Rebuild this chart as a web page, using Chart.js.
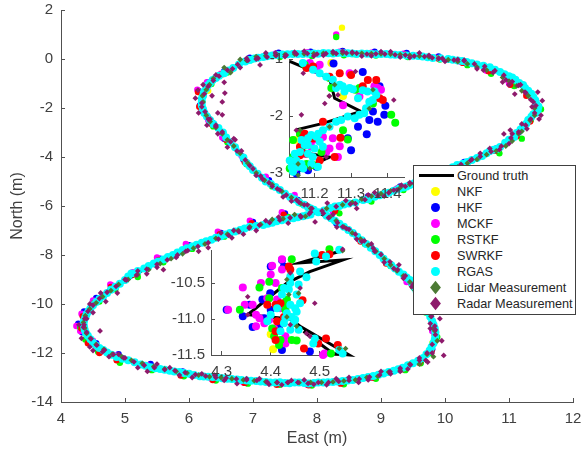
<!DOCTYPE html>
<html>
<head>
<meta charset="utf-8">
<title>Trajectory</title>
<script src="https://cdn.jsdelivr.net/npm/chart.js@4"></script>
<style>
    html, body { margin: 0; padding: 0; background: #fff; }
    #wrap { position: relative; width: 585px; height: 450px; overflow: hidden; font-family: "Liberation Sans", Arial, sans-serif; }
    canvas { position: absolute; }
    #legend { position: absolute; left: 413px; top: 165px; width: 161px; height: 148px; background: #fff; border: 1px solid #404040; color: #262626; font-size: 12.7px; }
    .row { position: absolute; left: 0; width: 160px; height: 16px; line-height: 16px; }
    .row span { position: absolute; left: 43px; white-space: nowrap; }
    .key { position: absolute; }
</style>
</head>
<body>
<div id="wrap">
    <canvas id="mainChart" width="585" height="450" style="left:0;top:0"></canvas>
    <canvas id="insetTop" width="170" height="160" style="left:250px;top:45px"></canvas>
    <canvas id="insetBottom" width="210" height="150" style="left:160px;top:235px"></canvas>
    <div id="legend"></div>
</div>
<script>
// legend
const seriesNames = ['Ground truth', 'NKF', 'HKF', 'MCKF', 'RSTKF', 'SWRKF', 'RGAS', 'Lidar Measurement', 'Radar Measurement'];
const seriesColors = ['#000000', '#ffff00', '#0000ff', '#ff00ff', '#00ff00', '#ff0000', '#00ffff', '#4c7a34', '#8e1a6c'];

// main axes tick labels
const eastTicks = [4, 5, 6, 7, 8, 9, 10, 11, 12];
const northTicks = [2, 0, -2, -4, -6, -8, -10, -12, -14];

// main plot, values
const truthEast = [8.02, 8.72, 9.45, 10.19, 10.86, 11.12, 11.3, 11.45, 11.38, 11.22, 10.86, 10.34, 9.81, 9.3, 8.55, 7.78, 7.3, 6.88, 6.69, 6.42, 6.27, 6.2, 6.22, 6.53, 7, 7.58, 8.02, 8.56, 8.98, 9.45, 9.68, 9.84, 9.82, 9.66, 9.34, 8.88, 8.25, 7.5, 6.75, 6.17, 5.4, 4.87, 4.5, 4.37, 4.35, 4.5, 4.85, 5.45, 5.9, 6.64, 7.16, 8.02];
const truthNorth = [-6.25, -5.76, -5.14, -4.33, -3.59, -3.02, -2.49, -2.08, -1.55, -1.06, -0.53, -0.12, 0.04, 0.16, 0.22, 0.2, 0.14, -0.1, -0.37, -0.78, -1.2, -1.75, -2.05, -3, -4.53, -5.63, -6.25, -7.1, -8, -9.02, -10.05, -11, -11.6, -12.2, -12.6, -12.94, -13.18, -13.22, -13.08, -12.95, -12.58, -12.16, -11.58, -11.05, -10.8, -10.05, -9.3, -8.35, -7.8, -7.1, -6.78, -6.25];

const nkfEast = [8.39, 8.6, 6.3, 4.4, 9.8];
const nkfNorth = [1.28, 0.18, -1.3, -11.3, -11.6];

const hkfEast = [8.3, 8.8, 9.3, 9.8, 10.3, 10.8, 11.15, 11.34, 11.45, 11.3, 11.05, 10.7, 10.3, 9.9, 9.4, 8.9, 8.4, 7.9, 7.4, 6.95, 6.55, 6.3, 6.15, 6.17, 6.33, 6.55, 6.85, 7.25, 7.7, 8.3, 8.7, 9.1, 9.45, 9.65, 9.85, 9.8, 9.62, 9.35, 8.9, 8.4, 7.9, 7.4, 6.9, 6.4, 5.9, 5.4, 4.9, 4.55, 4.33, 4.27, 4.36, 4.55, 4.8, 5.15, 5.55, 6, 6.5, 7, 7.5];
const hkfNorth = [-6.1, -5.6, -5.2, -4.75, -4.2, -3.65, -3, -2.4, -1.9, -1.4, -0.95, -0.42, -0.1, 0.1, 0.25, 0.3, 0.33, 0.3, 0.26, 0.05, -0.5, -0.95, -1.3, -1.9, -2.6, -3.25, -4.1, -4.95, -5.75, -6.7, -7.4, -8.3, -9.1, -10.2, -11.2, -11.85, -12.38, -12.65, -13, -13.22, -13.28, -13.25, -13.15, -13, -12.75, -12.45, -12.05, -11.6, -11.15, -10.8, -10.3, -9.75, -9.25, -8.75, -8.15, -7.6, -7.1, -6.65, -6.3];

const mckfEast = [8.25, 8.75, 9.25, 9.75, 10.25, 10.75, 11.1, 11.33, 11.4, 11.28, 11, 10.65, 10.25, 9.85, 9.35, 8.85, 8.35, 7.85, 7.35, 6.9, 6.5, 6.28, 6.13, 6.2, 6.3, 6.52, 6.82, 7.2, 7.65, 8.3, 8.65, 9.05, 9.4, 9.62, 9.8, 9.78, 9.58, 9.3, 8.85, 8.35, 7.85, 7.35, 6.85, 6.35, 5.85, 5.35, 4.85, 4.5, 4.3, 4.24, 4.32, 4.5, 4.77, 5.12, 5.5, 5.95, 6.45, 6.95, 7.45];
const mckfNorth = [-6.25, -5.75, -5.28, -4.85, -4.3, -3.7, -3.1, -2.5, -1.95, -1.45, -1, -0.48, -0.12, 0.05, 0.22, 0.26, 0.3, 0.28, 0.22, -0.05, -0.6, -0.95, -1.25, -1.85, -2.5, -3.2, -3.95, -4.8, -5.55, 1, -7.35, -8.2, -9.1, -10.15, -11.1, -11.8, -12.35, -12.68, -13, -13.18, -13.3, -13.22, -13.2, -13.05, -12.8, -12.5, -12.1, -11.5, -11.1, -10.9, -10.4, -9.85, -9.2, -8.7, -8.1, -7.55, -7.05, -6.6, -6.25];

const rstkfEast = [8.35, 8.85, 9.35, 9.85, 10.35, 10.85, 11.2, 11.34, 11.5, 11.35, 11.08, 10.72, 10.35, 9.92, 9.42, 8.92, 8.42, 7.92, 7.42, 6.97, 6.6, 6.35, 6.2, 6.22, 6.38, 6.6, 6.9, 7.3, 7.75, 8.3, 8.75, 9.15, 9.5, 9.7, 9.88, 9.78, 9.62, 9.38, 8.92, 8.42, 7.92, 7.42, 6.92, 6.42, 5.92, 5.42, 4.92, 4.58, 4.38, 4.3, 4.4, 4.6, 4.85, 5.2, 5.6, 6.05, 6.55, 7.05, 7.55];
const rstkfNorth = [-6.3, -5.82, -5.35, -4.95, -4.4, -3.85, -3.25, -2.5, -2.05, -1.55, -1.1, -0.6, -0.25, -0.02, 0.08, 0.14, 0.15, 0.12, 0.08, -0.04, -0.55, -1.02, -1.45, -2.05, -2.75, -3.4, -4.3, -5.2, -5.9, 0.9, -7.55, -8.45, -9.3, -10.35, -11.35, -12, -12.42, -12.7, -13.05, -13.28, -13.33, -13.3, -13.25, -13.12, -12.95, -12.7, -12.4, -11.95, -11.45, -10.95, -10.45, -9.9, -9.4, -8.9, -8.3, -7.75, -7.25, -6.8, -6.45];

const swrkfEast = [8.28, 8.78, 9.28, 9.78, 10.28, 10.78, 11.12, 11.33, 11.43, 11.27, 11.02, 10.68, 10.28, 9.88, 9.38, 8.88, 8.38, 7.88, 7.38, 6.93, 6.52, 6.27, 6.14, 6.16, 6.35, 6.58, 6.87, 7.27, 7.72, 8.28, 8.68, 9.08, 9.48, 9.68, 9.84, 9.79, 9.6, 9.33, 8.87, 8.37, 7.87, 7.37, 6.87, 6.37, 5.87, 5.37, 4.87, 4.6, 4.42, 4.32, 4.34, 4.52, 4.78, 5.13, 5.53, 5.98, 6.48, 6.98, 7.48];
const swrkfNorth = [-6.2, -5.72, -5.25, -4.82, -4.28, -3.75, -3.15, -2.55, -1.98, -1.5, -1.05, -0.5, -0.16, 0.03, 0.18, 0.22, 0.25, 0.24, 0.2, 0, -0.62, -1.1, -1.35, -1.95, -2.65, -3.3, -4.2, -5.1, -5.8, -6.6, -7.45, -8.35, -9.2, -10.25, -11.25, -11.9, -12.4, -12.66, -13, -13.25, -13.32, -13.3, -13.22, -13.1, -12.92, -12.65, -12.3, -12, -11.6, -11, -10.5, -9.95, -9.3, -8.8, -8.2, -7.7, -7.15, -6.7, -6.35];

const rgasEast = [8.02, 8.2, 8.35, 8.5, 8.72, 8.9, 9.05, 9.2, 9.35, 9.45, 9.6, 9.75, 9.9, 10.05, 10.19, 10.35, 10.5, 10.65, 10.76, 10.86, 11, 11.12, 11.22, 11.3, 11.38, 11.45, 11.42, 11.38, 11.3, 11.22, 11.1, 11, 10.86, 10.7, 10.5, 10.34, 10.2, 10.05, 9.81, 9.65, 9.5, 9.3, 9.15, 9, 8.85, 8.7, 8.55, 8.4, 8.25, 8.1, 7.95, 7.78, 7.62, 7.46, 7.3, 7.16, 7.02, 6.88, 6.69, 6.55, 6.42, 6.33, 6.27, 6.22, 6.2, 6.22, 6.28, 6.38, 6.53, 6.65, 6.78, 6.9, 7, 7.14, 7.28, 7.42, 7.58, 7.72, 7.86, 7.95,
    8.15, 8.28, 8.42, 8.56, 8.7, 8.84, 8.98, 9.1, 9.22, 9.35, 9.45, 9.53, 9.6, 9.68, 9.74, 9.8, 9.84, 9.85, 9.82, 9.76, 9.66, 9.5, 9.34, 9.2, 9.04, 8.88, 8.72, 8.56, 8.4, 8.25, 8.1, 7.95, 7.8, 7.65, 7.5, 7.35, 7.2, 7.05, 6.9, 6.75, 6.6, 6.45, 6.3, 6.17, 6, 5.85, 5.7, 5.55, 5.4, 5.25, 5.05, 4.87, 4.72, 4.6, 4.5, 4.42, 4.37, 4.35, 4.38, 4.43, 4.5, 4.6, 4.72, 4.85, 5, 5.1, 5.3, 5.45, 5.6, 5.75, 5.9, 6.05, 6.2, 6.35, 6.5, 6.64, 6.8, 6.95, 7.16, 7.3, 7.45, 7.63, 7.78, 7.9,
    8.11, 8.28, 8.42, 8.6, 8.8, 8.98, 9.12, 9.28, 9.4, 9.52, 9.68, 9.83, 9.98, 10.12, 10.28, 10.42, 10.58, 10.7, 10.82, 10.94, 11.08, 11.18, 11.27, 11.35, 11.42, 11.46, 11.41, 11.35, 11.25, 11.16, 11.05, 10.93, 10.78, 10.6, 10.42, 10.27, 10.12, 9.93, 9.73, 9.58, 9.4, 9.22, 9.08, 8.92, 8.78, 8.62, 8.48, 8.32, 8.18, 8.02, 7.86, 7.7, 7.54, 7.38, 7.22, 7.08, 6.95, 6.78, 6.62, 6.47, 6.37, 6.29, 6.23, 6.2, 6.2, 6.24, 6.33, 6.46, 6.58, 6.72, 6.85, 6.95, 7.07, 7.2, 7.35, 7.5, 7.65, 7.8, 7.9,
    8.22, 8.35, 8.49, 8.63, 8.77, 8.91, 9.04, 9.16, 9.28, 9.4, 9.49, 9.56, 9.64, 9.71, 9.77, 9.82, 9.85, 9.84, 9.79, 9.71, 9.58, 9.42, 9.27, 9.12, 8.96, 8.8, 8.64, 8.48, 8.32, 8.17, 8.02, 7.87, 7.72, 7.57, 7.42, 7.27, 7.12, 6.97, 6.82, 6.67, 6.52, 6.37, 6.23, 6.08, 5.92, 5.77, 5.62, 5.47, 5.32, 5.15, 4.96, 4.79, 4.66, 4.55, 4.46, 4.39, 4.36, 4.36, 4.4, 4.46, 4.55, 4.66, 4.78, 4.92, 5.05, 5.2, 5.37, 5.52, 5.67, 5.82, 5.97, 6.12, 6.27, 6.42, 6.57, 6.72, 6.87, 7.05, 7.23, 7.37, 7.54, 7.7, 7.84];
const rgasNorth = [-6.25, -6.08, -6, -5.9, -5.76, -5.62, -5.5, -5.38, -5.24, -5.14, -5, -4.85, -4.7, -4.5, -4.33, -4.2, -4.04, -3.85, -3.7, -3.59, -3.3, -3.02, -2.75, -2.49, -2.25, -2.08, -1.8, -1.55, -1.3, -1.06, -0.85, -0.7, -0.53, -0.34, -0.22, -0.12, -0.06, 0, 0.04, 0.1, 0.13, 0.16, 0.18, 0.2, 0.2, 0.22, 0.22, 0.24, 0.22, 0.24, 0.22, 0.2, 0.2, 0.18, 0.14, 0.08, 0.02, -0.1, -0.37, -0.58, -0.78, -0.98, -1.2, -1.5, -1.75, -2.05, -2.35, -2.65, -3, -3.4, -3.82, -4.24, -4.53, -4.85, -5.1, -5.35, -5.63, -5.85, -6.05, -6.15,
    -6.4, -6.6, -6.85, -7.1, -7.4, -7.7, -8, -8.3, -8.55, -8.8, -9.02, -9.35, -9.7, -10.05, -10.35, -10.7, -11, -11.3, -11.6, -11.9, -12.2, -12.42, -12.6, -12.72, -12.84, -12.94, -13.02, -13.1, -13.14, -13.18, -13.2, -13.22, -13.22, -13.2, -13.22, -13.2, -13.18, -13.14, -13.12, -13.08, -13.05, -13, -12.97, -12.95, -12.85, -12.78, -12.72, -12.65, -12.58, -12.47, -12.3, -12.16, -11.98, -11.8, -11.58, -11.3, -11.05, -10.8, -10.55, -10.3, -10.05, -9.8, -9.55, -9.3, -9.02, -8.75, -8.55, -8.35, -8.18, -8, -7.8, -7.65, -7.5, -7.38, -7.23, -7.1, -6.98, -6.85, -6.78, -6.68, -6.58, -6.5, -6.42, -6.35,
    -6.18, -6.02, -5.94, -5.86, -5.72, -5.56, -5.46, -5.3, -5.2, -5.07, -4.94, -4.76, -4.62, -4.42, -4.28, -4.12, -3.96, -3.76, -3.66, -3.42, -3.18, -2.88, -2.64, -2.36, -2.2, -1.94, -1.68, -1.42, -1.18, -0.98, -0.76, -0.62, -0.44, -0.28, -0.17, -0.08, -0.03, 0.03, 0.07, 0.12, 0.14, 0.17, 0.2, 0.19, 0.21, 0.2, 0.23, 0.25, 0.23, 0.21, 0.21, 0.2, 0.19, 0.16, 0.11, 0.05, -0.04, -0.22, -0.47, -0.68, -0.86, -1.08, -1.35, -1.62, -1.9, -2.2, -2.5, -2.82, -3.2, -3.6, -4.02, -4.38, -4.68, -5, -5.22, -5.5, -5.72, -5.95, -6.1,
    -6.5, -6.72, -6.98, -7.25, -7.55, -7.85, -8.15, -8.42, -8.68, -8.92, -9.18, -9.52, -9.88, -10.2, -10.52, -10.85, -11.15, -11.45, -11.75, -12.05, -12.32, -12.5, -12.66, -12.78, -12.89, -12.98, -13.06, -13.12, -13.16, -13.19, -13.2, -13.24, -13.2, -13.23, -13.19, -13.2, -13.16, -13.13, -13.1, -13.06, -13.03, -12.98, -12.96, -12.9, -12.82, -12.75, -12.68, -12.62, -12.52, -12.38, -12.23, -12.07, -11.88, -11.7, -11.44, -11.18, -10.92, -10.68, -10.42, -10.18, -9.92, -9.68, -9.42, -9.17, -8.88, -8.65, -8.45, -8.27, -8.08, -7.9, -7.72, -7.58, -7.44, -7.3, -7.16, -7.04, -6.92, -6.82, -6.72, -6.62, -6.54, -6.46, -6.38];

const lidarEast = [8.15, 8.4, 8.7, 9, 9.3, 9.6, 9.9, 10.2, 10.5, 10.8, 11.05, 11.2, 11.33, 11.4, 11.3, 11.12, 10.9, 10.65, 10.35, 10.05, 9.75, 9.45, 9.15, 8.85, 8.55, 8.25, 7.95, 7.65, 7.35, 7.05, 6.8, 6.55, 6.38, 6.27, 6.22, 6.27, 6.42, 6.6, 6.8, 7.05, 7.3, 7.6, 7.9,
    8.3, 8.55, 8.8, 9.05, 9.25, 9.45, 9.6, 9.72, 9.82, 9.88, 9.82, 9.6, 9.3, 8.95, 8.6, 8.25, 7.9, 7.55, 7.2, 6.85, 6.5, 6.15, 5.8, 5.45, 5.1, 4.8, 4.55, 4.4, 4.35, 4.45, 4.65, 4.9, 5.2, 5.55, 5.9, 6.25, 6.6, 6.95, 7.3, 7.65,
    8.55, 8.85, 9.15, 9.45, 9.75, 10.05, 10.35, 10.65, 10.95, 11.15, 11.4, 11.2, 11, 10.5, 10.2, 9.9, 9.6, 9.3, 9, 8.7, 8.4, 8.1, 7.8, 7.5, 7.2, 6.9, 6.65, 6.32, 6.21, 6.33, 6.52, 6.7, 6.92, 7.18, 7.45, 7.75,
    8.2, 8.42, 8.68, 8.92, 9.15, 9.35, 9.53, 9.66, 9.78, 9.84, 9.72, 9.45, 9.12, 8.78, 8.42, 8.07, 7.72, 7.37, 7.02, 6.67, 6.32, 5.97, 5.62, 5.27, 4.95, 4.67, 4.46, 4.37, 4.38, 4.55, 4.78, 5.05, 5.37, 5.72, 6.07, 6.42, 6.77, 7.12, 7.47, 7.82];
const lidarNorth = [-6.1, -5.95, -5.72, -5.5, -5.25, -5, -4.7, -4.4, -4.1, -3.75, -3.35, -2.95, -2.5, -2, -1.5, -1.1, -0.75, -0.45, -0.2, -0.03, 0.08, 0.15, 0.2, 0.22, 0.23, 0.23, 0.22, 0.2, 0.15, 0.1, -0.02, -0.35, -0.8, -1.25, -1.75, -2.3, -2.8, -3.3, -3.85, -4.65, -5.13, -5.65, -6.1,
    -6.6, -7.1, -7.6, -8.15, -8.65, -9.1, -9.75, -10.3, -11, -11.5, -12.15, -12.45, -12.7, -12.95, -13.1, -13.18, -13.2, -13.2, -13.17, -13.1, -13, -12.9, -12.75, -12.55, -12.3, -12.05, -11.65, -11.2, -10.75, -10.2, -9.7, -9.2, -8.8, -8.35, -7.95, -7.55, -7.15, -6.85, -6.55, -6.35,
    -5.85, -5.6, -5.38, -5.12, -4.85, -4.55, -4.25, -3.9, -3.55, -3.05, -2.3, -1.3, -0.9, -0.33, -0.11, 0.03, 0.12, 0.18, 0.21, 0.23, 0.23, 0.23, 0.21, 0.18, 0.13, -0.06, -0.55, -1.05, -1.5, -2.55, -3.05, -3.55, -4.25, -4.95, -5.4, -5.9,
    -6.45, -6.85, -7.35, -7.85, -8.4, -8.85, -9.45, -9.95, -10.5, -11.1, -12.05, -12.45, -12.78, -13, -13.14, -13.2, -13.21, -13.2, -13.13, -13.05, -12.97, -12.82, -12.65, -12.42, -12.15, -11.85, -11.4, -10.98, -10.48, -9.95, -9.45, -9, -8.6, -8.15, -7.72, -7.32, -7, -6.75, -6.52, -6.42];

const radarEast = [8.1, 8.45, 8.62, 8.9, 9.2, 9.45, 9.72, 10.02, 10.3, 10.55, 10.85, 11.05, 11.28, 11.5, 11.52, 11.38, 11.18, 11, 10.75, 10.5, 10.2, 9.9, 9.6, 9.3, 9, 8.7, 8.4, 8.1, 7.8, 7.5, 7.2, 6.9, 6.68, 6.42, 6.22, 6.1, 6.15, 6.3, 6.45, 6.7, 6.95, 7.15, 7.42, 7.72,
    8.4, 8.7, 8.9, 9.2, 9.35, 9.55, 9.72, 9.92, 9.95, 9.98, 9.7, 9.42, 9.15, 8.8, 8.5, 8.15, 7.8, 7.45, 7.1, 6.75, 6.4, 6.05, 5.7, 5.35, 5, 4.75, 4.5, 4.61, 4.32, 4.4, 4.28, 4.45, 4.7, 5, 5.34, 5.6, 5.95, 6.3, 6.7, 7.05, 7.4, 7.75,
    8.6, 8.8, 9.05, 9.32, 9.58, 9.85, 10.12, 10.42, 10.7, 11, 11.2, 11.36, 11.45, 11.25, 10.95, 10.6, 10.3, 10, 9.75, 9.45, 9.15, 8.85, 8.55, 8.25, 7.95, 7.65, 7.35, 7.05, 6.8, 6.55, 6.36, 6.2, 6.28, 6.42, 6.6, 6.82, 7.05, 7.3, 7.6, 7.85,
    8.25, 8.5, 8.62, 8.85, 9.05, 9.28, 9.48, 9.62, 9.85, 9.8, 9.6, 9.3, 9, 8.65, 8.3, 7.95, 7.6, 7.25, 6.9, 6.55, 6.2, 5.85, 5.5, 5.2, 4.9, 4.65, 4.45, 4.35, 4.5, 4.62, 4.88, 5.2, 5.5, 5.8, 6.15, 6.5, 6.85, 7.2, 7.55, 7.9,
    10.9, 11.09, 11.47, 11.02, 10.92, 6.14, 6.56, 6.52, 6.45, 6.52, 6.72, 7.11, 8.16, 7.97, 7.47, 8.31, 6.67, 9.77, 9.77, 9.73,
    8.08, 8.3, 8.52, 8.75, 8.95, 9.12, 9.25, 9.38, 9.52, 9.66, 9.8, 9.95, 10.1, 10.25, 10.4, 10.55, 10.72, 10.88, 11.03, 11.15, 11.26, 11.34, 11.4, 11.42, 11.34, 11.26, 11.15, 11.05, 10.92, 10.78, 10.62, 10.46, 10.3, 10.14, 9.96, 9.8, 9.68, 9.52, 9.38, 9.22, 9.06, 8.92, 8.78, 8.62, 8.46, 8.3, 8.14, 8, 7.85, 7.68, 7.52, 7.36, 7.22, 7.08, 6.92, 6.76, 6.6, 6.47, 6.38, 6.3, 6.24, 6.2, 6.25, 6.33, 6.42, 6.52, 6.65, 6.75, 6.88, 7, 7.12, 7.25, 7.38, 7.52, 7.68, 7.8, 7.92,
    8.18, 8.32, 8.46, 8.6, 8.74, 8.88, 9, 9.14, 9.26, 9.38, 9.5, 9.58, 9.66, 9.73, 9.79, 9.84, 9.85, 9.8, 9.72, 9.6, 9.46, 9.3, 9.14, 8.98, 8.82, 8.66, 8.5, 8.34, 8.18, 8.02, 7.86, 7.7, 7.54, 7.38, 7.22, 7.06, 6.9, 6.74, 6.58, 6.42, 6.26, 6.1, 5.94, 5.78, 5.62, 5.46, 5.3, 5.14, 4.98, 4.82, 4.68, 4.56, 4.47, 4.4, 4.36, 4.37, 4.42, 4.5, 4.6, 4.72, 4.86, 5.02, 5.18, 5.34, 5.5, 5.66, 5.82, 5.98, 6.14, 6.3, 6.46, 6.62, 6.78, 6.94, 7.1, 7.26, 7.42, 7.58, 7.74, 7.88];
const radarNorth = [-6.3, -5.78, -6.1, -5.45, -5.35, -5.05, -5, -4.55, -4.45, -3.85, -3.7, -3.05, -2.85, -2.3, -1.7, -1.75, -1.05, -1.05, -0.55, -0.4, -0.02, 0.02, 0.25, 0.08, 0.3, 0.12, 0.32, 0.15, 0.32, 0.1, 0.25, 0.02, -0.4, -0.65, -1.05, -1.6, -2.2, -2.45, -3.05, -3.25, -4.35, -4.9, -5.35, -5.85,
    -6.85, -7.45, -7.85, -8.55, -8.95, -9.55, -10.1, -10.6, -11.5, -12.1, -12.3, -12.65, -12.85, -13.1, -13, -13.3, -13.1, -13.3, -13.05, -13.25, -12.9, -13, -12.6, -12.75, -12.2, -12.15, -11.9, -11.1, -11.4, -10.6, -10.85, -10, -9.9, -9, -8.77, -8.6, -7.85, -7.7, -7, -7, -6.45, -6.45,
    -5.9, -5.55, -5.6, -5.15, -5.1, -4.6, -4.6, -4.1, -3.65, -3.45, -2.65, -1.95, -1.35, -1.35, -0.85, -0.45, -0.05, -0.1, 0.15, 0.06, 0.3, 0.13, 0.28, 0.3, 0.12, 0.28, 0.25, 0, -0.35, -0.95, -1.5, -1.95, -2.7, -2.75, -3.6, -3.75, -4.75, -5.2, -5.8, -5.95,
    -6.35, -6.95, -7.35, -7.55, -8.3, -8.4, -9.3, -9.5, -11.05, -12, -12.2, -12.75, -12.75, -13.2, -13.05, -13.28, -13.12, -13.28, -13.05, -13.12, -12.85, -12.9, -12.45, -12.6, -12.05, -11.95, -11.75, -10.95, -10.35, -9.55, -9.55, -8.65, -8.5, -8.1, -7.85, -7.1, -7.15, -6.6, -6.7, -6.25,
    -0.94, -1.43, -2.45, -2.9, -3.06, -1.27, -1.39, -1.75, -2.2, -2.28, -3.3, -0.24, -5.88, -6.65, -5.63, -6.86, -7.3, -10.8, -11, -12.37,
    -6.2, -6.02, -5.92, -5.74, -5.58, -5.46, -5.34, -5.2, -5.08, -4.92, -4.8, -4.62, -4.5, -4.3, -4.14, -3.98, -3.78, -3.56, -3.22, -2.98, -2.7, -2.45, -2.2, -1.9, -1.66, -1.38, -1.08, -0.92, -0.66, -0.48, -0.3, -0.2, -0.08, -0.04, 0.02, 0.05, 0.1, 0.12, 0.16, 0.17, 0.2, 0.21, 0.2, 0.23, 0.24, 0.22, 0.22, 0.2, 0.22, 0.2, 0.16, 0.14, 0.08, 0.03, -0.06, -0.22, -0.45, -0.7, -0.88, -1.12, -1.42, -1.8, -2.15, -2.45, -2.7, -2.98, -3.38, -3.75, -4.12, -4.48, -4.78, -5.05, -5.3, -5.55, -5.75, -5.95, -6.1,
    -6.48, -6.68, -6.92, -7.15, -7.42, -7.72, -7.98, -8.28, -8.6, -8.85, -9.2, -9.5, -9.85, -10.15, -10.5, -10.9, -11.25, -11.65, -12, -12.3, -12.48, -12.62, -12.76, -12.9, -12.98, -13.06, -13.12, -13.16, -13.2, -13.2, -13.24, -13.2, -13.2, -13.2, -13.18, -13.12, -13.1, -13.06, -13.02, -13, -12.94, -12.88, -12.8, -12.72, -12.68, -12.6, -12.5, -12.36, -12.2, -12.06, -11.88, -11.68, -11.42, -11.15, -10.85, -10.6, -10.3, -10.05, -9.78, -9.52, -9.28, -9.02, -8.82, -8.58, -8.38, -8.2, -8, -7.82, -7.65, -7.5, -7.35, -7.2, -7.05, -6.9, -6.78, -6.68, -6.58, -6.48, -6.4, -6.32];

// upper inset
const topEastTicks = [11.2, 11.3, 11.4];
const topNorthTicks = [-1, -2, -3];
const topTruthEast = [11.132, 11.241, 11.255, 11.327, 11.223, 11.155, 11.155, 11.214, 11.159, 11.241, 11.141];
const topTruthNorth = [-1.04, -1.335, -1.69, -1.92, -2.13, -2.235, -2.335, -2.365, -2.63, -2.72, -3.01];
const topNkfEast = [11.278, 11.246, 11.146];
const topNkfNorth = [-1.65, -1.07, -2.42];
const topHkfEast = [11.252, 11.332, 11.394, 11.373, 11.391, 11.343, 11.3, 11.319, 11.182, 11.291, 11.36, 11.15, 11.378, 11.205, 11.35];
const topHkfNorth = [-1.08, -1.23, -1.82, -2.1, -1.98, -2.32, -2.6, -2.19, -2.95, -2.39, -1.92, -3.01, -1.48, -2.89, -2.07];
const topMckfEast = [11.382, 11.214, 11.187, 11.296, 11.25, 11.269, 11.264, 11.278, 11.373, 11.196, 11.232, 11.205, 11.364, 11.323, 11.241, 11.191, 11.173, 11.146, 11.223];
const topMckfNorth = [-1.54, -1.1, -1.07, -1.25, -2.39, -2.53, -2.72, -1.81, -1.51, -2.42, -2.63, -1.19, -1.48, -1.66, -2.57, -2.54, -2.66, -2.92, -2.37];
const topRstkfEast = [11.41, 11.421, 11.291, 11.246, 11.278, 11.196, 11.164, 11.141, 11.312, 11.36, 11.173, 11.241, 11.323, 11.16, 11.141, 11.178, 11.219, 11.132];
const topRstkfNorth = [-1.98, -2.12, -2.41, -1.51, -2.25, -2.86, -2.54, -2.42, -1.54, -1.78, -1.1, -1.335, -1.51, -2.31, -2.72, -2.84, -2.63, -2.92];
const topSwrkfEast = [11.269, 11.346, 11.387, 11.271, 11.196, 11.255, 11.16, 11.223, 11.369, 11.169, 11.146, 11.178, 11.241, 11.3, 11.332, 11.378, 11.16, 11.178, 11.15, 11.196, 11.214, 11.173];
const topSwrkfNorth = [-1.25, -1.37, -1.72, -2.38, -1.13, -2.72, -2.69, -2.1, -1.37, -2.37, -2.87, -1.16, -1.31, -1.28, -1.48, -1.69, -2.54, -2.66, -2.84, -2.395, -2.78, -2.31];
const topRgasEast = [11.168, 11.214, 11.25, 11.259, 11.277, 11.305, 11.332, 11.345, 11.359, 11.341, 11.336, 11.323, 11.291, 11.259, 11.223, 11.182, 11.173, 11.223, 11.15, 11.164, 11.209, 11.141, 11.132, 11.195, 11.182, 11.205, 11.364,
    11.196, 11.232, 11.282, 11.296, 11.269, 11.319, 11.35, 11.369, 11.31, 11.273, 11.241, 11.21, 11.191, 11.164, 11.16, 11.146, 11.182, 11.214, 11.169, 11.191, 11.137, 11.2, 11.155];
const topRgasNorth = [-1.07, -1.25, -1.365, -1.51, -1.48, -1.53, -1.55, -1.57, -1.72, -1.865, -1.95, -1.98, -2.01, -2.1, -2.25, -2.39, -2.51, -2.54, -2.78, -2.84, -2.89, -2.98, -2.78, -2.72, -2.66, -2.365, -1.57,
    -1.19, -1.31, -1.57, -1.51, -1.45, -1.69, -1.75, -1.63, -2.04, -2.07, -2.19, -2.31, -2.335, -2.42, -2.63, -2.66, -2.51, -2.45, -2.92, -2.84, -2.89, -2.57, -2.89];
const topLidarEast = [11.241, 11.255, 11.35, 11.16, 11.241, 11.155, 11.155, 11.187, 11.36];
const topLidarNorth = [-1.65, -1.45, -1.87, -2.25, -2.19, -2.84, -3.04, -2.92, -1.54];
const topRadarEast = [11.417, 11.228, 11.164, 11.312, 11.169, 11.24, 11.15, 11.232, 11.264];
const topRadarNorth = [-1.72, -1.78, -1.98, -1.22, -1.25, -1.65, -2.25, -2.72, -1.63];

// lower inset
const lowEastTicks = [4.3, 4.4, 4.5];
const lowNorthTicks = [-10.5, -11, -11.5];
const lowTruthEast = [4.55, 4.46, 4.547, 4.48, 4.433, 4.353, 4.44, 4.46, 4.56, 4.527, 4.467];
const lowTruthNorth = [-10.04, -10.22, -10.18, -10.34, -10.5, -10.94, -11, -11.1, -11.5, -11.48, -11.17];
const lowNkfEast = [4.4, 4.405];
const lowNkfNorth = [-11.21, -11.42];
const lowHkfEast = [4.31, 4.343, 4.363, 4.357, 4.399, 4.423, 4.48, 4.423, 4.4, 4.427, 4.383, 4.4, 4.387, 4.417];
const lowHkfNorth = [-10.87, -10.96, -11.11, -10.8, -10.64, -11.43, -11.45, -10.18, -10.27, -10.27, -10.73, -10.87, -10.99, -11.1];
const lowMckfEast = [4.313, 4.343, 4.38, 4.403, 4.4, 4.363, 4.387, 4.377, 4.42, 4.413, 4.51, 4.43, 4.423, 4.37, 4.423, 4.41, 4.393, 4.347, 4.397, 4.407, 4.37, 4.43, 4.507];
const lowMckfNorth = [-10.87, -10.56, -10.5, -10.26, -10.38, -10.8, -11.06, -10.99, -10.85, -10.73, -11.48, -11.34, -10.17, -10.94, -10.31, -10.5, -10.71, -10.8, -11.01, -11.13, -11.1, -11.24, -11.5];
const lowRstkfEast = [4.337, 4.377, 4.397, 4.443, 4.52, 4.453, 4.417, 4.523, 4.403, 4.433, 4.423, 4.427, 4.43, 4.397, 4.407, 4.42, 4.443];
const lowRstkfNorth = [-10.87, -10.56, -10.48, -10.17, -10.03, -11.3, -11.36, -11.48, -11.13, -10.73, -10.57, -10.78, -10.87, -10.71, -11.24, -11.29, -11.29];
const lowSwrkfEast = [4.465, 4.513, 4.468, 4.505, 4.42, 4.413, 4.437, 4.52, 4.41, 4.537, 4.41, 4.44, 4.393, 4.427, 4.41, 4.497];
const lowSwrkfNorth = [-10.74, -11.27, -11.41, -10.11, -10.78, -11.03, -10.27, -10.1, -11.29, -11.36, -10.8, -10.31, -10.8, -10.97, -11.17, -11.34];
const lowRgasEast = [4.49, 4.54, 4.493, 4.513, 4.46, 4.473, 4.44, 4.437, 4.453, 4.423, 4.45, 4.453, 4.393, 4.427, 4.42, 4.447, 4.49, 4.487, 4.547, 4.54, 4.433,
    4.44, 4.457, 4.427, 4.46, 4.44, 4.43, 4.443, 4.413, 4.4, 4.45, 4.457, 4.44];
const lowRgasNorth = [-10.09, -10.035, -10.2, -10.13, -10.34, -10.42, -10.5, -10.59, -10.66, -10.66, -10.85, -10.9, -11.03, -11.06, -11.17, -11.06, -11.27, -11.34, -11.48, -11.43, -10.92,
    -10.41, -10.52, -10.57, -10.78, -10.8, -10.99, -10.97, -10.85, -10.94, -11.01, -11.15, -11.15];
const lowLidarEast = [4.547, 4.457, 4.433, 4.54, 4.453, 4.433, 4.553, 4.437];
const lowLidarNorth = [-10.05, -10.64, -10.45, -11.41, -11.1, -10.97, -11.41, -10.66];
const lowRadarEast = [4.49, 4.353, 4.46, 4.353, 4.44, 4.473, 4.48, 4.547, 4.44];
const lowRadarNorth = [-10.78, -10.69, -10.57, -10.94, -11.08, -11.2, -11.24, -10.03, -10.36];

Chart.defaults.font.family = '"Liberation Sans", Arial, sans-serif';
Chart.defaults.color = '#404040';

const axisColor = '#505050';

function toPoints(east, north) {
    return east.map((e, i) => ({ x: e, y: north[i] }));
}

// lists come in legend order; chart.js paints its first dataset last, so flip them
function buildDatasets(lists, sizes) {
    return lists.map((list, i) => {
        const isTruth = i === 0;
        const isMark = i >= 7;
        let radius = sizes.dot;
        if (i === 6) radius = sizes.rgas;
        if (isMark) radius = sizes.mark;
        if (isTruth) radius = 0;
        const set = {
            label: seriesNames[i],
            data: toPoints(list[0], list[1]),
            pointStyle: isMark ? 'rectRot' : 'circle',
            pointRadius: radius,
            pointBackgroundColor: seriesColors[i],
            pointBorderWidth: 0,
            clip: false
        };
        if (isTruth) {
            set.showLine = true;
            set.borderColor = seriesColors[i];
            set.borderWidth = 3;
        }
        return set;
    }).reverse();
}

function axis(min, max, tickValues, titleText, fixedSize, isX, pad, titlePad) {
    const opts = {
        type: 'linear',
        min: min,
        max: max,
        border: { color: axisColor, width: 1 },
        grid: { drawOnChartArea: false, color: axisColor, tickLength: -4, tickWidth: 1 },
        ticks: { autoSkip: false, maxRotation: 0, minRotation: 0, padding: pad, font: { size: 15 }, color: '#404040' },
        afterBuildTicks: scale => { scale.ticks = tickValues.map(v => ({ value: v })); },
        afterFit: scale => {
            if (isX) scale.height = fixedSize;
            else scale.width = fixedSize;
            // no extra room for half tick labels, the plot box is fixed
            scale.paddingLeft = 0;
            scale.paddingRight = 0;
            scale.paddingTop = 0;
            scale.paddingBottom = 0;
        }
    };
    if (titleText) {
        opts.title = { display: true, text: titleText, color: '#404040', font: { size: 16 }, padding: titlePad };
    }
    return opts;
}

function drawPlot(id, lists, xAxis, yAxis, padding, sizes) {
    new Chart(document.getElementById(id).getContext('2d'), {
        type: 'scatter',
        data: { datasets: buildDatasets(lists, sizes) },
        options: {
            responsive: false,
            animation: false,
            layout: { padding: padding, autoPadding: false },
            plugins: { legend: { display: false }, tooltip: { enabled: false } },
            scales: { x: xAxis, y: yAxis }
        }
    });
}

drawPlot('mainChart',
    [[truthEast, truthNorth], [nkfEast, nkfNorth], [hkfEast, hkfNorth], [mckfEast, mckfNorth], [rstkfEast, rstkfNorth], [swrkfEast, swrkfNorth], [rgasEast, rgasNorth], [lidarEast, lidarNorth], [radarEast, radarNorth]],
    axis(4, 12, eastTicks, 'East (m)', 48, true, 12, { top: 0, bottom: 2 }),
    axis(-14, 2, northTicks, 'North (m)', 61, false, 12, { top: 8, bottom: 0 }),
    { left: 0, right: 12, top: 10, bottom: 0 }, { dot: 3.2, rgas: 4, mark: 2.9 });

drawPlot('insetTop',
    [[topTruthEast, topTruthNorth], [topNkfEast, topNkfNorth], [topHkfEast, topHkfNorth], [topMckfEast, topMckfNorth], [topRstkfEast, topRstkfNorth], [topSwrkfEast, topSwrkfNorth], [topRgasEast, topRgasNorth], [topLidarEast, topLidarNorth], [topRadarEast, topRadarNorth]],
    axis(11.13, 11.445, topEastTicks, null, 28, true, 12),
    axis(-3.07, -1, topNorthTicks, null, 39, false, 10),
    { left: 0, right: 16, top: 14, bottom: 0 }, { dot: 4, rgas: 4, mark: 2.8 });

drawPlot('insetBottom',
    [[lowTruthEast, lowTruthNorth], [lowNkfEast, lowNkfNorth], [lowHkfEast, lowHkfNorth], [lowMckfEast, lowMckfNorth], [lowRstkfEast, lowRstkfNorth], [lowSwrkfEast, lowSwrkfNorth], [lowRgasEast, lowRgasNorth], [lowLidarEast, lowLidarNorth], [lowRadarEast, lowRadarNorth]],
    axis(4.278, 4.562, lowEastTicks, null, 30, true, 12),
    axis(-11.5, -10.04, lowNorthTicks, null, 51, false, 10),
    { left: 0, right: 20, top: 15, bottom: 0 }, { dot: 4, rgas: 4, mark: 2.8 });

// legend box
const legend = document.getElementById('legend');
seriesNames.forEach((name, i) => {
    const row = document.createElement('div');
    row.className = 'row';
    row.style.top = (2 + i * 16) + 'px';
    const key = document.createElement('div');
    key.className = 'key';
    if (i === 0) {
        key.style.cssText = 'left:5px;top:6px;width:35px;height:3px;background:' + seriesColors[i];
    } else if (i >= 7) {
        key.style.cssText = 'left:17px;top:3px;width:9px;height:9px;transform:scale(0.85,1.05) rotate(45deg);background:' + seriesColors[i];
    } else {
        key.style.cssText = 'left:17px;top:3px;width:9px;height:9px;border-radius:50%;background:' + seriesColors[i];
    }
    const text = document.createElement('span');
    text.textContent = name;
    row.appendChild(key);
    row.appendChild(text);
    legend.appendChild(row);
});
</script>
</body>
</html>
